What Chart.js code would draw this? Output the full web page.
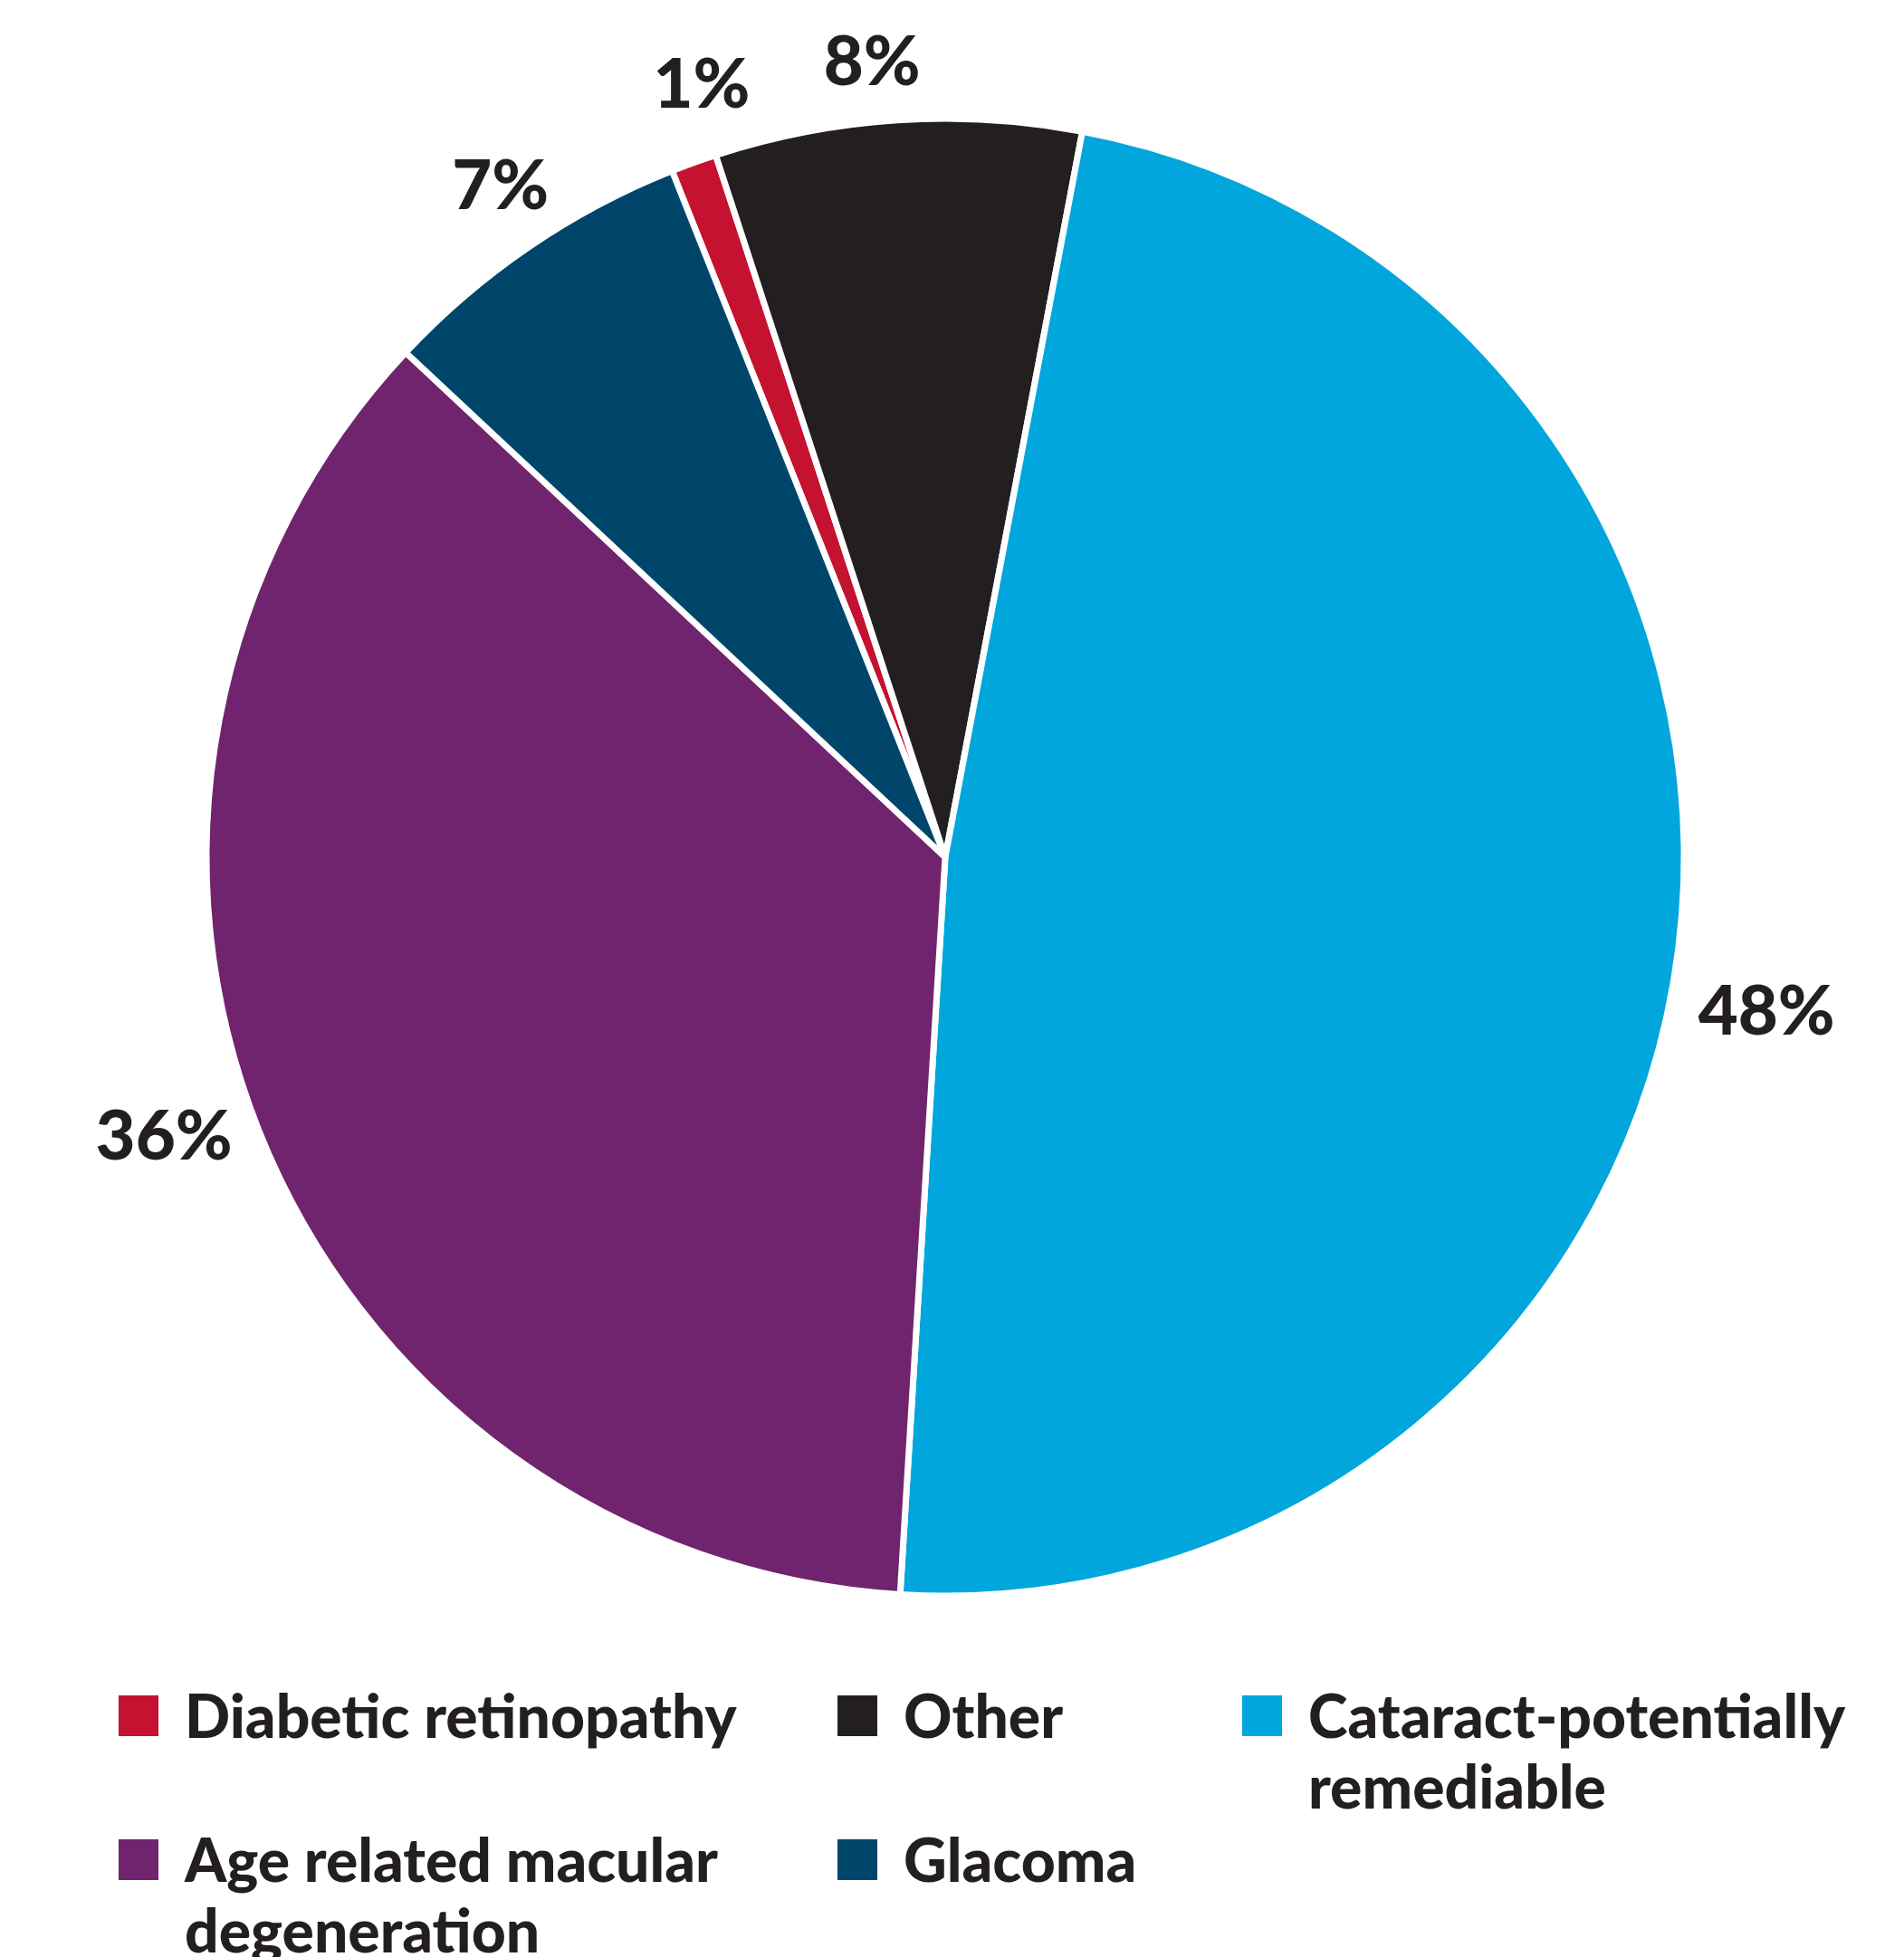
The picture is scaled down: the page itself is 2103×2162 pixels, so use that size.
<!DOCTYPE html>
<html><head><meta charset="utf-8">
<script src="https://cdn.jsdelivr.net/npm/chart.js@4"></script>
<style>
html,body{margin:0;padding:0;background:#fff;}
body{width:2103px;height:2162px;position:relative;overflow:hidden;font-family:Lato,sans-serif;}
#wrap{position:absolute;left:0;top:0;width:2103px;height:1894px;}
#legend{position:absolute;left:131px;top:1856px;display:grid;grid-template-columns:794px 447px 700px;row-gap:3px;color:#231F20;font:900 66px/78px Lato,sans-serif;}
.item{display:flex;align-items:flex-start;}
.sw{width:44px;height:45px;margin-top:17px;margin-right:29px;flex:none;}
.tx{white-space:pre;}
</style></head><body>
<div id="wrap"><canvas id="c"></canvas></div>
<div id="legend"></div>
<script>
const categories = ['Diabetic retinopathy', 'Other', 'Cataract-potentially\nremediable', 'Age related macular\ndegeneration', 'Glacoma'];
const shares = [1, 8, 48, 36, 7];
const colors = ['#C41230', '#231F20', '#00A6DC', '#70246E', '#00456A'];

const pctLabels = {
  id: 'pctLabels',
  afterDatasetsDraw(chart, args, opts) {
    const ctx = chart.ctx;
    const meta = chart.getDatasetMeta(0);
    const data = chart.data.datasets[0].data;
    ctx.save();
    ctx.font = '900 ' + opts.size + 'px Lato, sans-serif';
    ctx.fillStyle = opts.color;
    ctx.textAlign = 'center';
    ctx.textBaseline = 'alphabetic';
    meta.data.forEach((arc, i) => {
      const p = arc.getProps(['x', 'y', 'startAngle', 'endAngle', 'outerRadius'], true);
      const a = (p.startAngle + p.endAngle) / 2 + (opts.nudge[i] || 0) * Math.PI / 180;
      const ux = Math.cos(a), uy = Math.sin(a);
      const text = data[i] + '%';
      const w = ctx.measureText(text).width, h = opts.size * 0.72;
      const R = p.outerRadius + opts.gap + (opts.lift[i] || 0);
      const cx = p.x + ux * R + ux * w / 2;
      const cy = p.y + uy * R + uy * h / 2;
      ctx.fillText(text, cx, cy + h / 2);
    });
    ctx.restore();
  }
};

new Chart(document.getElementById('c'), {
  type: 'pie',
  data: {
    labels: categories,
    datasets: [{ data: shares, backgroundColor: colors, borderColor: '#ffffff', borderWidth: 7, hoverOffset: 0 }]
  },
  options: {
    responsive: true,
    maintainAspectRatio: false,
    animation: false,
    events: [],
    rotation: -21.7,
    radius: 816,
    layout: { padding: { left: 0, right: 15, top: 0, bottom: 0 } },
    plugins: {
      legend: { display: false },
      tooltip: { enabled: false },
      pctLabels: { size: 76, color: '#231F20', gap: 38, nudge: [2.9, -1.4, 4.0, 1.16, 1.6], lift: [13, 2, -5, -8, 2] }
    }
  },
  plugins: [pctLabels]
});

const lg = document.getElementById('legend');
categories.forEach((c, i) => {
  const it = document.createElement('div'); it.className = 'item';
  const sw = document.createElement('span'); sw.className = 'sw'; sw.style.background = colors[i];
  const tx = document.createElement('span'); tx.className = 'tx'; tx.textContent = c;
  it.appendChild(sw); it.appendChild(tx); lg.appendChild(it);
});
</script>
</body></html>
